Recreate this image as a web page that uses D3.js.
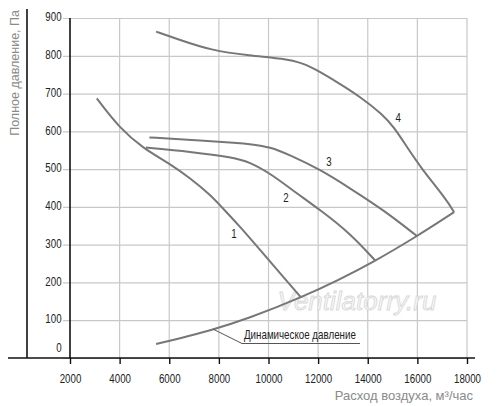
<!DOCTYPE html>
<html>
<head>
<meta charset="utf-8">
<script src="https://cdn.jsdelivr.net/npm/d3@7"></script>
<style>
  body { margin: 0; background: #fff; }
  svg { display: block; }
  text { font-family: "Liberation Sans", Arial, sans-serif; }
</style>
</head>
<body>
<div class="canvas"></div>
<script>
// axis ticks
const xTicks = [2000, 4000, 6000, 8000, 10000, 12000, 14000, 16000, 18000];
const yTicks = [0, 100, 200, 300, 400, 500, 600, 700, 800, 900];

// fan curves, air flow (m3/h) vs total pressure (Pa)
const curve1X = [3080, 4000, 4950, 6030, 6840, 7650, 8050, 8850, 9660, 10470, 11300];
const curve1Y = [687, 608, 555, 514, 476, 432, 404, 348, 286, 224, 161];

const curve2X = [5060, 6840, 8590, 9260, 10060, 11140, 12080, 13290, 14300];
const curve2Y = [557, 546, 531, 518, 489, 436, 392, 330, 258];

const curve3X = [5200, 6840, 8850, 9260, 10060, 10870, 12080, 13290, 14630, 15980];
const curve3Y = [584, 577, 569, 566, 559, 537, 499, 449, 392, 323];

const curve4X = [5470, 6430, 7650, 9260, 10600, 11410, 11950, 12750, 13690, 14630, 15040, 15580, 16110, 17190, 17480];
const curve4Y = [864, 842, 815, 800, 793, 780, 762, 731, 692, 643, 612, 559, 506, 418, 386];

// dynamic pressure
const dynX = [5470, 7780, 9260, 11300, 14300, 15980, 17480];
const dynY = [37, 76, 108, 161, 258, 323, 386];

const curveNames = ['1', '2', '3', '4'];
const labelPos = [[8610, 318], [10700, 413], [12440, 507], [15230, 625]];

// condensed look: squeeze the glyphs horizontally
const squeeze = 0.72;

const svg = d3.select('.canvas')
  .append('svg')
    .attr('width', 500)
    .attr('height', 406);

const x = d3.scaleLinear().domain([2000, 18000]).range([70, 467]);
const y = d3.scaleLinear().domain([0, 900]).range([358, 18]);

// outer black line on the left
svg.append('line')
  .attr('x1', 27).attr('x2', 27).attr('y1', 9).attr('y2', 358)
  .attr('stroke', '#111').attr('stroke-width', 1.6);

// horizontal grid + y labels
const yAxis = d3.axisLeft(y)
  .tickValues(yTicks)
  .tickSize(-(467 - 63))
  .tickPadding(2);

const yAxisGroup = svg.append('g')
  .attr('transform', 'translate(63,0)')
  .call(yAxis);
yAxisGroup.select('.domain').remove();
yAxisGroup.selectAll('line')
  .attr('stroke', '#c8c8c8').attr('stroke-width', 1.2);
yAxisGroup.selectAll('text')
  .attr('font-size', 13.5)
  .attr('fill', '#222')
  .attr('dy', d => d === 0 ? '-0.45em' : '0.2em')
  .attr('transform', `scale(${squeeze},1)`);

// vertical grid
svg.append('g').selectAll('line')
  .data(xTicks.slice(1))
  .enter()
  .append('line')
    .attr('x1', d => x(d)).attr('x2', d => x(d))
    .attr('y1', y(900)).attr('y2', y(0))
    .attr('stroke', '#c8c8c8').attr('stroke-width', 1.2);

// x axis
const xAxis = d3.axisBottom(x)
  .tickValues(xTicks)
  .tickSize(6)
  .tickPadding(9)
  .tickFormat(d => d);

const xAxisGroup = svg.append('g')
  .attr('transform', `translate(0, ${y(0)})`)
  .call(xAxis);
xAxisGroup.select('.domain').remove();
xAxisGroup.selectAll('line').attr('stroke', '#111').attr('stroke-width', 1.4);
xAxisGroup.selectAll('text')
  .attr('font-size', 13.5)
  .attr('fill', '#222')
  .attr('transform', `scale(${squeeze},1)`);

// baseline and y axis line
svg.append('line')
  .attr('x1', 8).attr('x2', 475).attr('y1', y(0)).attr('y2', y(0))
  .attr('stroke', '#111').attr('stroke-width', 1.6);
svg.append('line')
  .attr('x1', x(2000)).attr('x2', x(2000)).attr('y1', y(900)).attr('y2', y(0))
  .attr('stroke', '#111').attr('stroke-width', 1.6);

// watermark
svg.append('text')
  .attr('x', 357).attr('y', 310)
  .attr('text-anchor', 'middle')
  .attr('font-size', 26)
  .attr('font-style', 'italic')
  .attr('fill', '#f6f6f6')
  .attr('stroke', '#d8d8d8')
  .attr('stroke-width', 0.8)
  .text('Ventilatorry.ru');

// curves: smoothed fan curves, dynamic pressure through its points
const fanLine = d3.line()
  .x(d => x(d[0]))
  .y(d => y(d[1]))
  .curve(d3.curveBasis);

const dynLine = d3.line()
  .x(d => x(d[0]))
  .y(d => y(d[1]))
  .curve(d3.curveMonotoneX);

const zip = (xs, ys) => xs.map((v, i) => [v, ys[i]]);
const fans = [
  zip(curve1X, curve1Y),
  zip(curve2X, curve2Y),
  zip(curve3X, curve3Y),
  zip(curve4X, curve4Y)
];

svg.append('g').selectAll('path')
  .data(fans)
  .enter()
  .append('path')
    .attr('d', fanLine)
    .attr('fill', 'none')
    .attr('stroke', '#777')
    .attr('stroke-width', 2);

svg.append('path')
  .attr('d', dynLine(zip(dynX, dynY)))
  .attr('fill', 'none')
  .attr('stroke', '#777')
  .attr('stroke-width', 2);

// curve numbers
svg.append('g').selectAll('text')
  .data(curveNames)
  .enter()
  .append('text')
    .attr('transform', (d, i) => `translate(${x(labelPos[i][0])},${y(labelPos[i][1])}) scale(${squeeze},1)`)
    .attr('text-anchor', 'middle')
    .attr('font-size', 13.5)
    .attr('fill', '#222')
    .text(d => d);

// dynamic pressure callout
const calloutAt = [7780, 76];
svg.append('polyline')
  .attr('points', `${x(calloutAt[0])},${y(calloutAt[1])} 242,343.5 360,343.5`)
  .attr('fill', 'none')
  .attr('stroke', '#555')
  .attr('stroke-width', 1);
const dynLabel = svg.append('text')
  .attr('font-size', 12.5)
  .attr('fill', '#222')
  .text('Динамическое давление');
const dynLen = dynLabel.node().getComputedTextLength();
dynLabel.attr('transform', `translate(244,339) scale(${112 / dynLen},1)`);

// axis titles
svg.append('text')
  .attr('x', 473).attr('y', 400)
  .attr('text-anchor', 'end')
  .attr('font-size', 13)
  .attr('fill', '#8a8a8a')
  .text('Расход воздуха, м³/час');

svg.append('text')
  .attr('transform', 'translate(19,10) rotate(-90)')
  .attr('text-anchor', 'end')
  .attr('font-size', 12.5)
  .attr('fill', '#8a8a8a')
  .text('Полное давление, Па');
</script>
</body>
</html>
